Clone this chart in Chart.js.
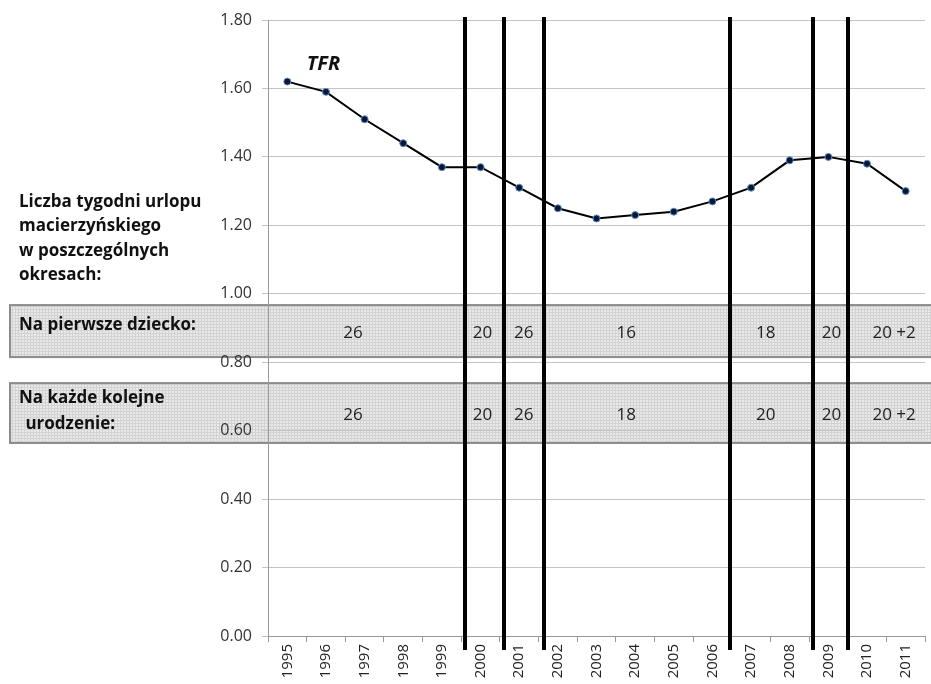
<!DOCTYPE html>
<html>
<head>
<meta charset="utf-8">
<script src="https://cdn.jsdelivr.net/npm/chart.js@4/dist/chart.umd.min.js"></script>
<style>
  html, body { margin: 0; padding: 0; background: #fff; }
  #wrap { width: 931px; height: 684px; }
</style>
</head>
<body>
<div id="wrap"><canvas id="canvas" width="931" height="684"></canvas></div>
<script>
// data
var years = ['1995', '1996', '1997', '1998', '1999', '2000', '2001', '2002', '2003',
             '2004', '2005', '2006', '2007', '2008', '2009', '2010', '2011'];
var tfr = [1.62, 1.59, 1.51, 1.44, 1.37, 1.37, 1.31, 1.25, 1.22,
           1.23, 1.24, 1.27, 1.31, 1.39, 1.40, 1.38, 1.30];

// period boundaries (as fractional category index) where leave length changed
var periodBreaks = [4.6, 5.6, 6.65, 11.45, 13.6, 14.5];
var firstChildWeeks = ['26', '20', '26', '16', '18', '20', '20 +2'];
var nextBirthWeeks = ['26', '20', '26', '18', '20', '20', '20 +2'];
// where each period's label sits (category index)
var periodLabelAt = [1.7, 5.05, 6.12, 8.77, 12.38, 14.08, 15.7];

// band ranges on the y scale
var bandFirst = [0.967, 0.815];
var bandNext = [0.739, 0.564];

var FONT = '"Open Sans", Lato, sans-serif';

function makePattern(ctx) {
    var c = document.createElement('canvas');
    c.width = 3; c.height = 3;
    var p = c.getContext('2d');
    p.fillStyle = '#e9e9e9';
    p.fillRect(0, 0, 3, 3);
    p.fillStyle = '#d2d2d2';
    p.fillRect(0, 0, 3, 1);
    p.fillRect(0, 0, 1, 3);
    return ctx.createPattern(c, 'repeat');
}

var overlay = {
    id: 'overlay',
    beforeDraw: function(chart) {
        var ctx = chart.ctx;
        var y = chart.scales.y;
        var pat = makePattern(ctx);
        ctx.save();
        [bandFirst, bandNext].forEach(function(b) {
            var top = y.getPixelForValue(b[0]);
            var bot = y.getPixelForValue(b[1]);
            ctx.fillStyle = pat;
            ctx.fillRect(10, top, 930, bot - top);
            ctx.strokeStyle = '#8c8c8c';
            ctx.lineWidth = 2;
            ctx.strokeRect(10, top, 930, bot - top);
        });

        ctx.fillStyle = '#111';
        ctx.font = 'bold 17px ' + FONT;
        ctx.textBaseline = 'middle';
        ctx.textAlign = 'left';
        ['Liczba tygodni urlopu', 'macierzyńskiego', 'w poszczególnych', 'okresach:'].forEach(function(t, i) {
            ctx.fillText(t, 19, 202 + i * 24.5);
        });
        ctx.fillText('Na pierwsze dziecko:', 19, 325);
        ctx.fillText('Na każde kolejne', 19, 398);
        ctx.fillText(' urodzenie:', 21, 424);
        ctx.restore();
    },
    afterDraw: function(chart) {
        var ctx = chart.ctx;
        var x = chart.scales.x;
        var y = chart.scales.y;
        ctx.save();

        // week counts
        ctx.fillStyle = '#222';
        ctx.font = '17px ' + FONT;
        ctx.textAlign = 'center';
        ctx.textBaseline = 'middle';
        var y1 = y.getPixelForValue((bandFirst[0] + bandFirst[1]) / 2) + 2;
        var y2 = y.getPixelForValue((bandNext[0] + bandNext[1]) / 2) + 2;
        firstChildWeeks.forEach(function(t, i) { ctx.fillText(t, x.getPixelForValue(periodLabelAt[i]), y1); });
        nextBirthWeeks.forEach(function(t, i) { ctx.fillText(t, x.getPixelForValue(periodLabelAt[i]), y2); });

        // period break lines
        ctx.strokeStyle = '#000';
        ctx.lineWidth = 4;
        periodBreaks.forEach(function(v) {
            var px = Math.round(x.getPixelForValue(v));
            ctx.beginPath();
            ctx.moveTo(px, chart.chartArea.top - 3);
            ctx.lineTo(px, chart.chartArea.bottom + 14);
            ctx.stroke();
        });

        // series label
        ctx.font = 'italic bold 20px ' + FONT;
        ctx.textAlign = 'left';
        ctx.fillStyle = '#111';
        ctx.fillText('TFR', x.getPixelForValue(0.5), y.getPixelForValue(1.67));
        ctx.restore();
    }
};

var ctx = document.getElementById('canvas').getContext('2d');
var chart = new Chart(ctx, {
    type: 'line',
    data: {
        labels: years,
        datasets: [{
            label: 'TFR',
            data: tfr,
            borderColor: '#000',
            borderWidth: 2,
            tension: 0,
            pointRadius: 3.5,
            pointBackgroundColor: '#0b1630',
            pointBorderColor: '#5b8fd0',
            pointBorderWidth: 1
        }]
    },
    options: {
        responsive: false,
        animation: false,
        layout: { padding: { left: 0, top: 20, right: 6, bottom: 0 } },
        plugins: {
            legend: { display: false },
            tooltip: { enabled: false }
        },
        scales: {
            x: {
                offset: true,
                grid: { drawOnChartArea: false, offset: true, tickLength: 6, color: '#999' },
                border: { color: '#999' },
                ticks: {
                    minRotation: 90, maxRotation: 90, autoSkip: false,
                    color: '#222', font: { family: FONT, size: 15 }, padding: 2
                },
                afterFit: function(s) { s.height = 48; }
            },
            y: {
                min: 0, max: 1.8,
                grid: { color: '#c4c4c4', tickLength: 6 },
                border: { color: '#999' },
                ticks: {
                    stepSize: 0.2,
                    color: '#333',
                    font: { family: FONT, size: 16 },
                    padding: 10,
                    callback: function(v) { return Number(v).toFixed(2); }
                },
                afterFit: function(s) { s.width = 268; }
            }
        }
    },
    plugins: [overlay]
});
</script>
</body>
</html>
